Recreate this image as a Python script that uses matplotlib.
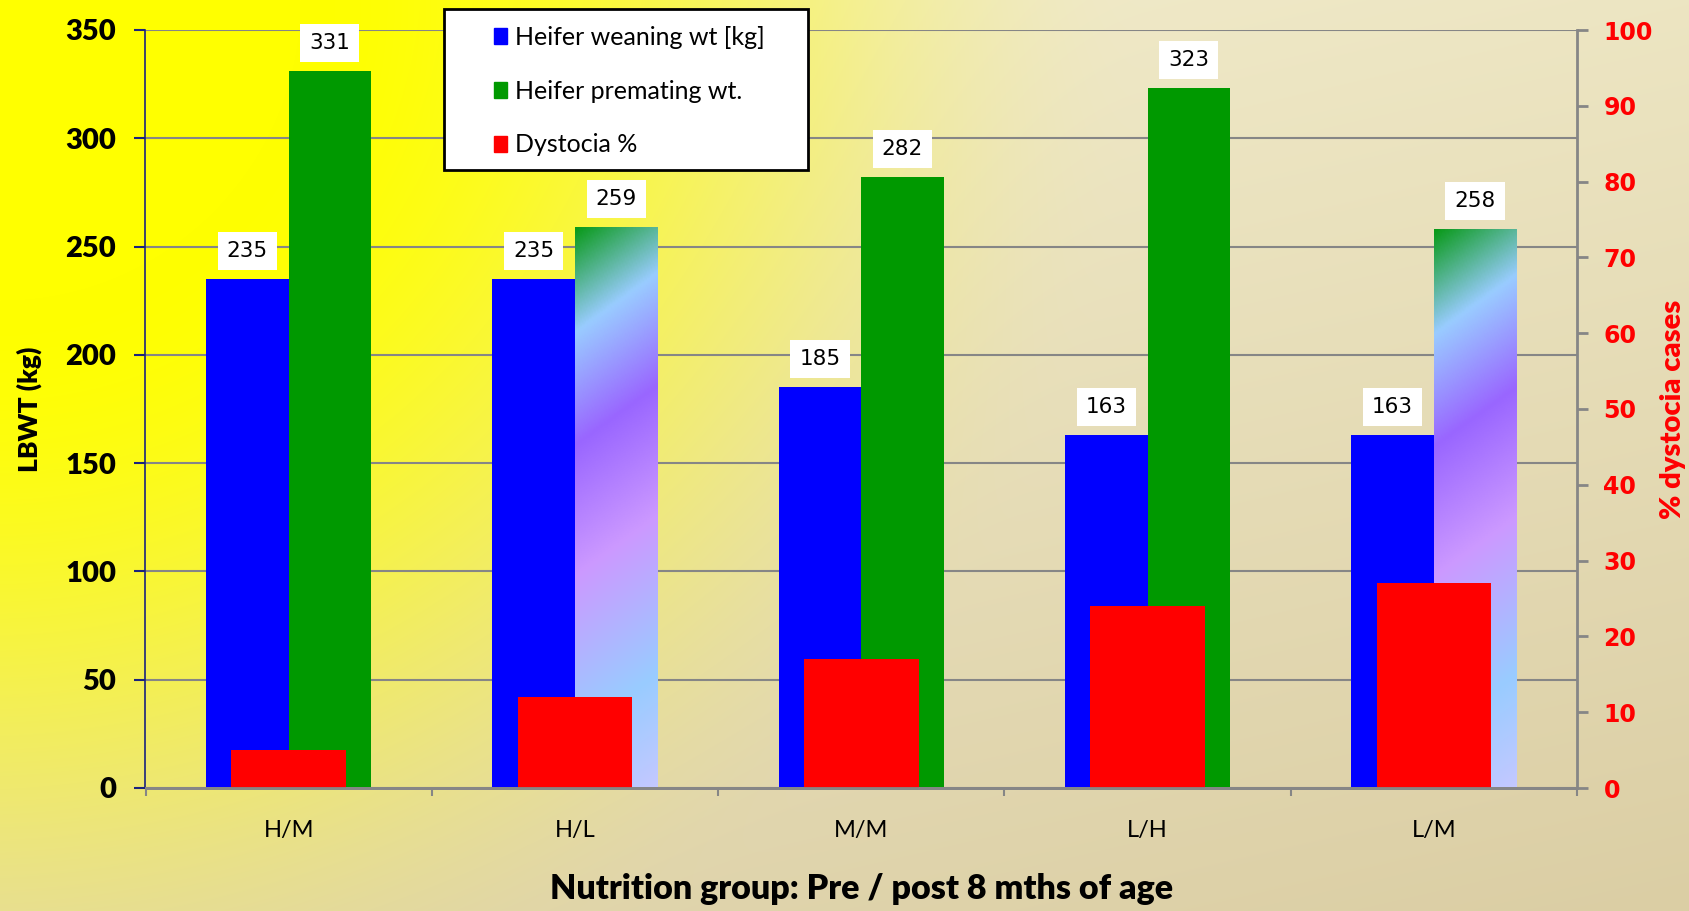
import numpy as np
import matplotlib
matplotlib.use('Agg')
import matplotlib.pyplot as plt
from matplotlib.patches import Patch, Rectangle
from matplotlib.colors import LinearSegmentedColormap, to_rgb

plt.rcParams['font.family'] = ['Lato', 'DejaVu Sans']

# data
groups = ['H/M', 'H/L', 'M/M', 'L/H', 'L/M']
weaning = [235, 235, 185, 163, 163]
premating = [331, 259, 282, 323, 258]
dystocia = [5, 12, 17, 24, 27]
labels = ['Heifer weaning wt [kg]', 'Heifer premating wt.', 'Dystocia %']
fancy = [1, 4]  # green bars drawn with the gradient fill

W, H = 1690, 911
fig = plt.figure(figsize=(W / 100, H / 100), dpi=100)

# background: yellow top-left fading into beige/tan
yy, xx = np.mgrid[0:H, 0:W]
d = np.hypot(xx, yy)
t = (0.6 * xx / W + 1.4 * yy / H) / 2
c0 = np.array(to_rgb('#f4efcf'))
c1 = np.array(to_rgb('#dbcea4'))
base = c0 + (c1 - c0) * t[..., None]
wy = np.clip((1150 - d) / 850, 0, 1)
wy = wy * wy * (3 - 2 * wy)
bg = base * (1 - wy[..., None]) + np.array([1, 1, 0]) * wy[..., None]
bgax = fig.add_axes([0, 0, 1, 1], zorder=-10)
bgax.imshow(bg, aspect='auto', extent=[0, 1, 0, 1])
bgax.axis('off')

ax = fig.add_axes([145.5 / W, 1 - 788 / H, (1577 - 145.5) / W, (788 - 30) / H])
ax.patch.set_visible(False)
ax2 = ax.twinx()
ax2.patch.set_visible(False)

x = np.arange(len(groups))
bw = 0.288
b1 = ax.bar(x - bw / 2, weaning, bw, color='#0000ff', zorder=2)
b2 = ax.bar(x + bw / 2, premating, bw, color='#009900', zorder=2)

# gradient fill for some green bars
stops = [(0, '#0a9a1a'), (0.184, '#99ccff'), (0.386, '#9966ff'),
         (0.621, '#cc99ff'), (0.904, '#99ccff'), (1.105, '#c4c8ff')]
cm = LinearSegmentedColormap.from_list('bar', [(p / 1.105, c) for p, c in stops])
u = np.linspace(0, 1, 60)
v = np.linspace(0, 1, 300)
P = v[:, None] + 0.105 * u[None, :]
for i in fancy:
    bar = b2[i]
    bar.set_facecolor('none')
    x0 = bar.get_x()
    im = ax.imshow(P, cmap=cm, vmin=0, vmax=1.105, aspect='auto',
                   extent=[x0, x0 + bar.get_width(), 0, bar.get_height()],
                   zorder=2, interpolation='bilinear')
    im.set_clip_path(bar)

for bars, vals in [(b1, weaning), (b2, premating)]:
    for r, val in zip(bars, vals):
        ax.annotate(str(val), (r.get_x() + r.get_width() / 2, val), xytext=(0, 13),
                    textcoords='offset points', ha='center', va='bottom',
                    fontsize=15.5, family='DejaVu Sans', zorder=5,
                    bbox=dict(boxstyle='square,pad=0.42', fc='white', ec='none'))

ax2.bar(x, dystocia, 0.40, color='#ff0000', zorder=2)

# axes styling
ax.set_xlim(-0.5, 4.5)
ax.set_ylim(0, 350)
ax.set_yticks(range(0, 351, 50))
ax.yaxis.grid(True, color='#868686', lw=1.5)
ax.set_axisbelow(True)
ax.set_xticks(x, groups)
ax.set_xticks(np.arange(-0.5, 5, 1), minor=True)
ax.tick_params(axis='x', which='major', length=0, pad=23, labelsize=17)
ax.tick_params(axis='x', which='minor', length=6, width=1.5, color='#868686')
ax.tick_params(axis='y', length=8, width=1.5, color='#1a237e', pad=13, labelsize=21)
for lb in ax.get_yticklabels():
    lb.set_fontweight('heavy')
ax.spines['left'].set_color('#1a237e')
ax.spines['left'].set_linewidth(1.2)
ax.spines['bottom'].set_color('#868686')
ax.spines['bottom'].set_linewidth(2)
ax.spines['top'].set_visible(False)
ax.spines['right'].set_visible(False)

ax2.set_ylim(0, 100)
ax2.set_yticks(range(0, 101, 10))
ax2.tick_params(axis='y', length=8, width=2, color='#868686', labelcolor='#ff0000',
                labelsize=17, pad=11)
for lb in ax2.get_yticklabels():
    lb.set_fontweight('bold')
    lb.set_family('DejaVu Sans')
ax2.spines['right'].set_color('#868686')
ax2.spines['right'].set_linewidth(2)
ax2.spines['bottom'].set_color('#868686')
ax2.spines['bottom'].set_linewidth(2)
ax2.spines['top'].set_visible(False)
ax2.spines['left'].set_visible(False)

ax.set_ylabel('LBWT (kg)', fontsize=19, fontweight='heavy', labelpad=17)
ax2.set_ylabel('% dystocia cases', color='#ff0000', fontsize=21, fontweight='heavy', labelpad=5)
ax.set_xlabel('Nutrition group: Pre / post 8 mths of age', fontsize=24.5,
              fontweight='heavy', labelpad=23)

# legend box
fig.patches.append(Rectangle((444 / W, 1 - 170 / H), 364 / W, 161 / H,
                             transform=fig.transFigure, fc='white', ec='black', lw=2))
handles = [Patch(color='#0000ff'), Patch(color='#009900'), Patch(color='#ff0000')]
fig.legend(handles, labels, loc='upper left', bbox_to_anchor=(494 / W, 1 - 26 / H),
           frameon=False, fontsize=18, handlelength=0.52, handleheight=0.6,
           handletextpad=0.32, labelspacing=1.23, borderpad=0, borderaxespad=0)

fig.savefig('out.png', dpi=100)
